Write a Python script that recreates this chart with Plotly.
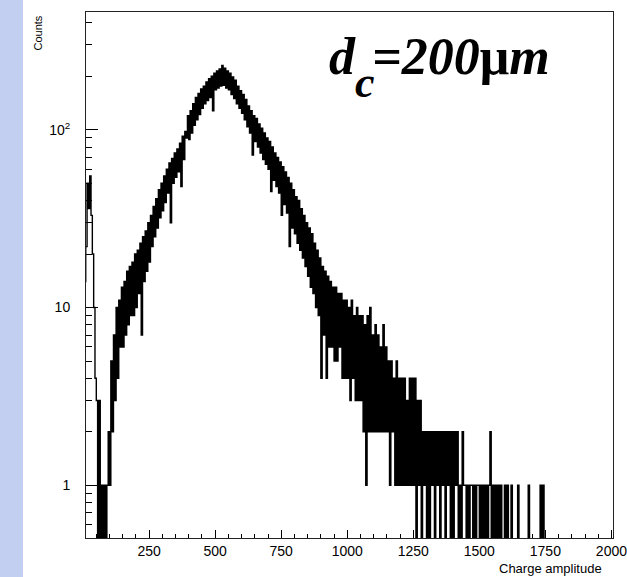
import numpy as np
import plotly.graph_objects as go

# ---------------- data ----------------
bin_width = 5  # charge-amplitude units per bin, first bin starts at 0
counts = [
    3, 14, 22, 50, 36, 55, 33, 20, 10, 4,            # 0-45
    3, 0, 3, 0, 1, 0, 1, 0, 1, 2,                    # 50-95
    1, 5, 2, 7, 3, 10, 4, 11, 6, 13,                 # 100-145
    6, 14, 7, 16, 8, 17, 9, 18, 9, 20,               # 150-195
    10, 21, 12, 23, 7, 25, 14, 27, 16, 30,           # 200-245
    18, 33, 22, 37, 25, 41, 28, 46, 32, 50,          # 250-295
    35, 55, 39, 60, 44, 65, 30, 69, 50, 74,          # 300-345
    54, 78, 58, 84, 48, 92, 68, 98, 90, 120,         # 350-395
    88, 128, 96, 140, 106, 152, 114, 160, 122, 170,  # 400-445
    132, 176, 140, 186, 146, 194, 152, 200, 128, 208,  # 450-495
    168, 214, 172, 220, 176, 230, 178, 222, 172, 214,  # 500-545
    168, 208, 158, 198, 150, 190, 140, 176, 132, 166,  # 550-595
    124, 158, 114, 148, 104, 136, 96, 128, 72, 120,  # 600-645
    86, 116, 80, 108, 74, 102, 68, 96, 64, 90,       # 650-695
    60, 86, 45, 80, 52, 74, 48, 70, 44, 66,          # 700-745
    33, 62, 38, 58, 34, 54, 22, 50, 28, 46,          # 750-795
    26, 42, 23, 40, 21, 36, 19, 33, 17, 30,          # 800-845
    15, 28, 13, 26, 12, 23, 10, 21, 9, 19,           # 850-895
    4, 17, 7, 16, 4, 15, 6, 14, 6, 13,               # 900-945
    5, 13, 5, 12, 6, 12, 4, 11, 4, 11,               # 950-995
    4, 10, 3, 11, 4, 9, 3, 10, 3, 9,                 # 1000-1045
    3, 9, 2, 8, 1, 9, 2, 10, 2, 7,                   # 1050-1095
    2, 8, 2, 7, 2, 6, 2, 8, 2, 6,                    # 1100-1145
    2, 5, 1, 5, 2, 4, 1, 5, 1, 4,                    # 1150-1195
    1, 4, 1, 4, 1, 3, 1, 4, 1, 4,                    # 1200-1245
    1, 4, 0, 3, 1, 3, 0, 2, 1, 2,                    # 1250-1295
    0, 2, 0, 2, 1, 2, 0, 2, 1, 2,                    # 1300-1345
    0, 2, 1, 2, 0, 2, 1, 2, 0, 2,                    # 1350-1395
    0, 2, 1, 2, 0, 1, 0, 2, 1, 1,                    # 1400-1445
    0, 1, 0, 1, 1, 0, 1, 0, 1, 1,                    # 1450-1495
    0, 1, 0, 1, 0, 1, 0, 1, 2, 0,                    # 1500-1545
    1, 0, 1, 0, 1, 0, 1, 0, 0, 1,                    # 1550-1595
    0, 1, 0, 0, 1, 0, 0, 0, 0, 1,                    # 1600-1645
    0, 0, 0, 0, 0, 0, 0, 1, 0, 0,                    # 1650-1695
    0, 0, 0, 0, 0, 0, 1, 0, 1, 0,                    # 1700-1745
    0, 0, 0, 0, 0, 0, 0, 0, 0, 0,                    # 1750-1795
]

x_tick_vals = [250, 500, 750, 1000, 1250, 1500, 1750, 2000]
x_tick_text = ["250", "500", "750", "1000", "1250", "1500", "1750", "2000"]
y_tick_vals = [1, 10, 100]
y_tick_text = ["1", "10", "10<sup>2</sup>"]
y_minor_vals = [0.6, 0.7, 0.8, 0.9, 2, 3, 4, 5, 6, 7, 8, 9,
                20, 30, 40, 50, 60, 70, 80, 90, 200, 300, 400]

x_title = "Charge amplitude"
y_title = "Counts"
label_main = "<b><i>d</i></b>"
label_sub = "<b><i>c</i></b>"
label_rest = "<b><i>=200</i>μ<i>m</i></b>"

# ---------------- figure ----------------
edges = np.arange(len(counts) + 1) * bin_width
# empty bins drop below the log axis floor (as ROOT draws them)
y_draw = [c if c > 0 else 0.3 for c in counts]
y_draw = y_draw + [y_draw[-1]]

fig = go.Figure()
fig.add_trace(go.Scatter(
    x=edges, y=y_draw, mode="lines", line_shape="hv",
    line=dict(color="black", width=1.4), hoverinfo="skip", showlegend=False,
))

W, H = 627, 577
L, R, T, B = 86, 14, 12, 39
pw, ph = W - L - R, H - T - B

def px(x):
    return (x - L) / pw

def py(y):
    return 1 - (y - T) / ph

font = "Liberation Sans, Arial, sans-serif"
serif = "Liberation Serif, Times New Roman, serif"

fig.update_layout(
    width=W, height=H,
    margin=dict(l=L, r=R, t=T, b=B, pad=0, autoexpand=False),
    paper_bgcolor="white", plot_bgcolor="white",
    font=dict(family=font, size=14, color="black"),
    xaxis=dict(
        range=[11, 2006], showgrid=False, zeroline=False, automargin=False,
        showline=True, linecolor="#222", linewidth=1, mirror=True,
        ticks="inside", ticklen=8, tickwidth=1, tickcolor="black",
        tickvals=x_tick_vals, ticktext=x_tick_text,
        tickfont=dict(size=14, family=font),
        ticklabeloverflow="allow",
        minor=dict(dtick=50, tick0=0, ticks="inside", ticklen=4,
                   tickcolor="black", showgrid=False),
    ),
    yaxis=dict(
        type="log", range=[np.log10(0.505), np.log10(460)],
        showgrid=False, zeroline=False, automargin=False,
        showline=True, linecolor="#222", linewidth=1, mirror=True,
        ticks="inside", ticklen=12, tickwidth=1, tickcolor="black",
        tickvals=y_tick_vals, ticktext=y_tick_text,
        tickfont=dict(size=14, family=font),
        ticklabelstandoff=12,
        minor=dict(tickvals=y_minor_vals, ticks="inside", ticklen=6,
                   tickcolor="black", showgrid=False),
    ),
)

# left decorative strip of the slide background
fig.add_shape(type="rect", xref="paper", yref="paper",
              x0=px(0), x1=px(23), y0=py(H), y1=py(0),
              fillcolor="#c3cff1", line=dict(width=0), layer="below")

fig.add_annotation(text=label_main, xref="paper", yref="paper",
                   x=px(327), y=py(26), xanchor="left", yanchor="top",
                   showarrow=False, font=dict(family=serif, size=52, color="#000"))
fig.add_annotation(text=label_sub, xref="paper", yref="paper",
                   x=px(353), y=py(56), xanchor="left", yanchor="top",
                   showarrow=False, font=dict(family=serif, size=44, color="#000"))
fig.add_annotation(text=label_rest, xref="paper", yref="paper",
                   x=px(370), y=py(26), xanchor="left", yanchor="top",
                   showarrow=False, font=dict(family=serif, size=52, color="#000"))
fig.add_annotation(text=y_title, xref="paper", yref="paper",
                   x=px(37), y=py(14), xanchor="center", yanchor="top",
                   textangle=-90, showarrow=False,
                   font=dict(family=font, size=11, color="black"))
fig.add_annotation(text=x_title, xref="paper", yref="paper",
                   x=px(604), y=py(568), xanchor="right", yanchor="middle",
                   showarrow=False,
                   font=dict(family=font, size=13, color="black"))

fig.write_html("out.html",
               config={"displayModeBar": False},
               post_script="document.body.style.margin='0px';"
                           "document.body.style.overflow='hidden';")
